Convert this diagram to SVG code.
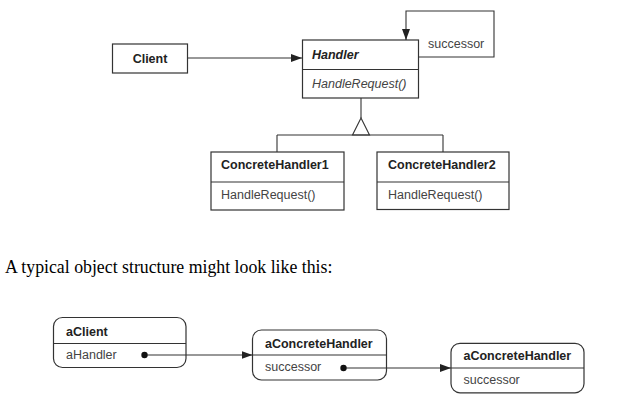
<svg xmlns="http://www.w3.org/2000/svg" width="621" height="410" viewBox="0 0 621 410">
<style>
.box{fill:#fff;stroke:#333;stroke-width:1.2}
.ln{fill:none;stroke:#333;stroke-width:1.1}
.b{font-family:"Liberation Sans",Arial,sans-serif;font-size:12.5px;font-weight:bold;fill:#222}
.r{font-family:"Liberation Sans",Arial,sans-serif;font-size:12.5px;fill:#444}
.i{font-style:italic}
.s{font-family:"Liberation Serif","Times New Roman",serif;font-size:17.8px;fill:#000}
</style>
<defs>
<marker id="ah" markerUnits="userSpaceOnUse" markerWidth="12" markerHeight="9" refX="11" refY="4" orient="auto">
<path d="M0,0 L11,4 L0,8 Z" fill="#222"/>
</marker>
</defs>
<rect width="621" height="410" fill="#fff"/>
<g id="client">
<rect class="box" x="112.5" y="44" width="75" height="29"/>
<text class="b" x="150" y="63" text-anchor="middle">Client</text>
</g>
<g id="handler">
<rect class="box" x="302.5" y="40" width="116" height="58"/>
<line class="ln" x1="302.5" y1="69.5" x2="418.5" y2="69.5"/>
<text class="b i" x="312" y="59">Handler</text>
<text class="r i" x="312" y="88">HandleRequest()</text>
<text class="r" x="428" y="47.5">successor</text>
</g>
<g id="concretehandler1">
<rect class="box" x="211" y="152" width="133" height="58"/>
<line class="ln" x1="211" y1="182" x2="344" y2="182"/>
<text class="b" x="221" y="169">ConcreteHandler1</text>
<text class="r" x="221" y="199">HandleRequest()</text>
</g>
<g id="concretehandler2">
<rect class="box" x="377" y="152" width="132" height="57.5"/>
<line class="ln" x1="377" y1="182" x2="509" y2="182"/>
<text class="b" x="388" y="169">ConcreteHandler2</text>
<text class="r" x="388" y="199">HandleRequest()</text>
</g>
<text class="s" x="5" y="273.3">A typical object structure might look like this:</text>
<g id="aclient">
<rect class="box" x="53.5" y="317.5" width="132.5" height="50" rx="9"/>
<line class="ln" x1="53.5" y1="343.5" x2="186" y2="343.5"/>
<text class="b" x="66" y="336">aClient</text>
<text class="r" x="66" y="359">aHandler</text>
</g>
<g id="aconcretehandler1">
<rect class="box" x="252.5" y="330" width="134" height="50" rx="9"/>
<line class="ln" x1="252.5" y1="355" x2="386.5" y2="355"/>
<text class="b" x="265" y="348">aConcreteHandler</text>
<text class="r" x="265" y="371">successor</text>
</g>
<g id="aconcretehandler2">
<rect class="box" x="451" y="343.3" width="133" height="49.5" rx="9"/>
<line class="ln" x1="451" y1="368" x2="584" y2="368"/>
<text class="b" x="463.5" y="360">aConcreteHandler</text>
<text class="r" x="463.5" y="383.5">successor</text>
</g>
<g id="connectors">
<path class="ln" d="M187.5,58 H302" marker-end="url(#ah)"/>
<path class="ln" d="M418.5,57 H494 V11 H406 V40" marker-end="url(#ah)"/>
<path class="ln" d="M361,98 V118"/>
<path class="ln" d="M361,118 L352.5,135 L369.5,135 Z"/>
<path class="ln" d="M277,135 H443 M277,135 V152 M443,135 V152"/>
<path class="ln" d="M144.5,355 H252.5" marker-end="url(#ah)"/>
<circle cx="144.5" cy="355" r="3.2" fill="#111"/>
<path class="ln" d="M343.5,368 H451" marker-end="url(#ah)"/>
<circle cx="343.5" cy="368" r="3.2" fill="#111"/>
</g>
</svg>
